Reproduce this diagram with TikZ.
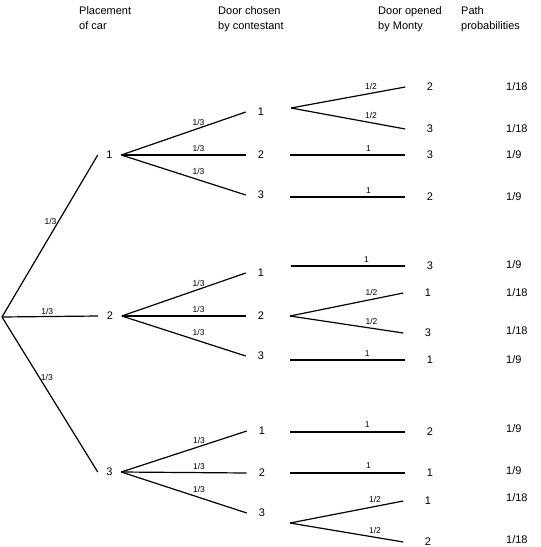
\documentclass[tikz,border=0pt]{standalone}
\usepackage{fontspec}
\setmainfont{Liberation Sans}

\tikzset{
  branch/.style={line width=1.2pt},
  elab/.style={font=\fontsize{8.5}{9}\selectfont, inner sep=1.5pt},
  head/.style={font=\fontsize{11}{15}\selectfont, align=left, anchor=north west, inner sep=0pt},
  carnode/.style={font=\fontsize{11}{13}\selectfont, inner ysep=1pt, inner xsep=8.5pt},
  choicenode/.style={font=\fontsize{11}{13}\selectfont, inner ysep=1pt, inner xsep=12pt},
  montynode/.style={font=\fontsize{11}{13}\selectfont, inner ysep=1pt, inner xsep=21.5pt},
  probnode/.style={font=\fontsize{11}{13}\selectfont, anchor=west, inner sep=0pt}
}

\begin{document}
\begin{tikzpicture}[x=1pt,y=-1pt]
\useasboundingbox (0,0) rectangle (541,547);

% column headings
\node[head] (hcar) at (79,6) {Placement\\of car};
\node[head] (hchoice) at (218,6) {Door chosen\\by contestant};
\node[head] (hmonty) at (378,6) {Door opened\\by Monty};
\node[head] (hprob) at (461,6) {Path\\probabilities};

% placement of car
\coordinate (root) at (2,317);
\node[carnode] (car1) at (109.5,155) {1};
\node[carnode] (car2) at (110,316) {2};
\node[carnode] (car3) at (109.5,472) {3};
\draw[branch] (root) -- (car1.west) node[elab,pos=0.59,left] {1/3};
\draw[branch] (root) -- (car2.west) node[elab,pos=0.47,above] {1/3};
\draw[branch] (root) -- (car3.west) node[elab,pos=0.39,right,inner sep=1pt] {1/3};

% door chosen by contestant
\node[choicenode] (c11) at (261,112) {1};
\node[choicenode] (c12) at (261,155) {2};
\node[choicenode] (c13) at (261,195) {3};
\node[choicenode] (c21) at (261,273) {1};
\node[choicenode] (c22) at (261,316) {2};
\node[choicenode] (c23) at (261,356) {3};
\node[choicenode] (c31) at (262,431) {1};
\node[choicenode] (c32) at (262,473) {2};
\node[choicenode] (c33) at (262,513) {3};
\draw[branch] (car1.east) -- (c11.west) node[elab,pos=0.62,above=1pt] {1/3};
\draw[branch] (car1.east) -- (c12.west) node[elab,pos=0.62,above=1pt] {1/3};
\draw[branch] (car1.east) -- (c13.west) node[elab,pos=0.62,above=3pt] {1/3};
\draw[branch] (car2.east) -- (c21.west) node[elab,pos=0.62,above=1pt] {1/3};
\draw[branch] (car2.east) -- (c22.west) node[elab,pos=0.62,above=1pt] {1/3};
\draw[branch] (car2.east) -- (c23.west) node[elab,pos=0.62,above=3pt] {1/3};
\draw[branch] (car3.east) -- (c31.west) node[elab,pos=0.62,above=1pt] {1/3};
\draw[branch] (car3.east) -- (c32.west) node[elab,pos=0.62,above=1pt] {1/3};
\draw[branch] (car3.east) -- (c33.west) node[elab,pos=0.62,above=3pt] {1/3};

% door opened by Monty
\coordinate (f11) at (291,108);
\coordinate (s12) at (290,155);
\coordinate (s13) at (290,197);
\coordinate (s21) at (291,266);
\coordinate (f22) at (290,316);
\coordinate (s23) at (290,360);
\coordinate (s31) at (290,432);
\coordinate (s32) at (290,473);
\coordinate (f33) at (290,523);
\node[montynode] (m11a) at (430,87) {2};
\node[montynode] (m11b) at (430,129) {3};
\node[montynode] (m12) at (430,155) {3};
\node[montynode] (m13) at (430,197) {2};
\node[montynode] (m21) at (430,266) {3};
\node[montynode] (m22a) at (428,293) {1};
\node[montynode] (m22b) at (428,333) {3};
\node[montynode] (m23) at (430,360) {1};
\node[montynode] (m31) at (430,432) {2};
\node[montynode] (m32) at (430,473) {1};
\node[montynode] (m33a) at (428,501) {1};
\node[montynode] (m33b) at (428,542) {2};
\draw[branch] (f11) -- (m11a.west) node[elab,pos=0.7,above=2pt] {1/2};
\draw[branch] (f11) -- (m11b.west) node[elab,pos=0.7,above=2pt] {1/2};
\draw[branch] (s12) -- (m12.west) node[elab,pos=0.68,above=1pt] {1};
\draw[branch] (s13) -- (m13.west) node[elab,pos=0.68,above=1pt] {1};
\draw[branch] (s21) -- (m21.west) node[elab,pos=0.66,above=1pt] {1};
\draw[branch] (f22) -- (m22a.west) node[elab,pos=0.72,above=2pt] {1/2};
\draw[branch] (f22) -- (m22b.west) node[elab,pos=0.72,above=2pt] {1/2};
\draw[branch] (s23) -- (m23.west) node[elab,pos=0.67,above=1pt] {1};
\draw[branch] (s31) -- (m31.west) node[elab,pos=0.67,above=2pt] {1};
\draw[branch] (s32) -- (m32.west) node[elab,pos=0.68,above=2pt] {1};
\draw[branch] (f33) -- (m33a.west) node[elab,pos=0.75,above=2pt] {1/2};
\draw[branch] (f33) -- (m33b.west) node[elab,pos=0.75,above=2pt] {1/2};

% path probabilities
\node[probnode] (p11a) at (506,87) {1/18};
\node[probnode] (p11b) at (506,129) {1/18};
\node[probnode] (p12) at (506,155) {1/9};
\node[probnode] (p13) at (506,197) {1/9};
\node[probnode] (p21) at (506,265) {1/9};
\node[probnode] (p22a) at (506,293) {1/18};
\node[probnode] (p22b) at (506,331) {1/18};
\node[probnode] (p23) at (506,360) {1/9};
\node[probnode] (p31) at (506,429) {1/9};
\node[probnode] (p32) at (506,471) {1/9};
\node[probnode] (p33a) at (506,498) {1/18};
\node[probnode] (p33b) at (506,540) {1/18};
\end{tikzpicture}
\end{document}
